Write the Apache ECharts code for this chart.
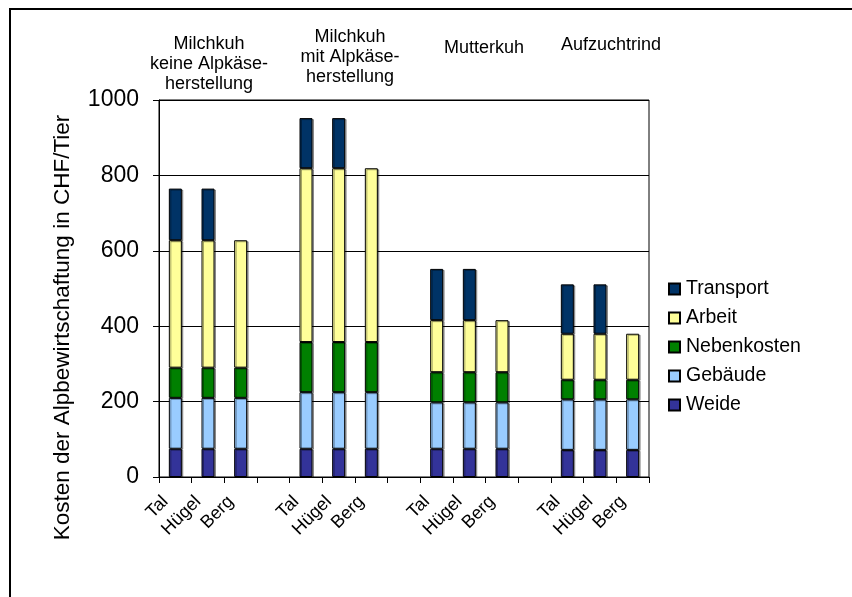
<!DOCTYPE html>
<html>
<head>
<meta charset="utf-8">
<script src="https://cdn.jsdelivr.net/npm/echarts@6/dist/echarts.min.js"></script>
<style>
  html, body { margin: 0; padding: 0; background: #fff; }
  #chart { width: 852px; height: 597px; }
</style>
</head>
<body>
<div id="chart"></div>
<script>
// Alp cost per animal, split by region (Tal / Hügel / Berg) for four animal categories
const regions = ['Tal', 'Hügel', 'Berg'];
const groupTitles = [
  'Milchkuh\nkeine Alpkäse-\nherstellung',
  'Milchkuh\nmit Alpkäse-\nherstellung',
  'Mutterkuh',
  'Aufzuchtrind'
];
// values per bar, in the order group1 Tal/Hügel/Berg, group2 ..., group4
const weide       = [75, 75, 75,   75, 75, 75,    75, 75, 75,    72, 72, 72];
const gebaeude    = [135, 135, 135, 150, 150, 150, 123, 123, 123, 134, 134, 134];
const nebenkosten = [80, 80, 80,   133, 133, 133, 80, 80, 80,    52, 52, 52];
const arbeit      = [338, 338, 338, 461, 461, 461, 138, 138, 138, 122, 122, 122];
const transport   = [137, 137, null, 133, 133, null, 136, 136, null, 131, 131, null];
const yTicks = [0, 200, 400, 600, 800, 1000];

// Category axis: three regions per group with an empty slot between groups
const categories = [];
groupTitles.forEach((g, gi) => {
  regions.forEach(r => categories.push(r));
  if (gi < groupTitles.length - 1) categories.push('');
});
function spread(values) {
  const out = [];
  for (let gi = 0; gi < groupTitles.length; gi++) {
    for (let k = 0; k < regions.length; k++) out.push(values[gi * regions.length + k]);
    if (gi < groupTitles.length - 1) out.push(null);
  }
  return out;
}

const font = 'Liberation Sans, Arial, sans-serif';
const seriesDefs = [
  { name: 'Weide', color: '#333399', data: weide },
  { name: 'Gebäude', color: '#99CCFF', data: gebaeude },
  { name: 'Nebenkosten', color: '#008000', data: nebenkosten },
  { name: 'Arbeit', color: '#FFFF99', data: arbeit },
  { name: 'Transport', color: '#003366', data: transport }
];

const chart = echarts.init(document.getElementById('chart'), null, { renderer: 'canvas' });
const titlePos = [[209, 34], [350, 27], [484, 38], [611, 35]];

chart.setOption({
  animation: false,
  backgroundColor: '#fff',
  textStyle: { fontFamily: font, color: '#000' },
  grid: { left: 159, right: 203, top: 100, bottom: 120, show: true, borderColor: '#000', borderWidth: 1, backgroundColor: 'transparent' },
  legend: {
    orient: 'vertical',
    left: 663,
    top: 274,
    itemWidth: 11,
    itemHeight: 11,
    itemGap: 9,
    icon: 'rect',
    data: ['Transport', 'Arbeit', 'Nebenkosten', 'Gebäude', 'Weide'],
    textStyle: { fontFamily: font, fontSize: 19.5, lineHeight: 19, color: '#000', padding: [0, 0, 0, 1] }
  },
  xAxis: {
    type: 'category',
    data: categories,
    axisLine: { lineStyle: { color: '#000', width: 1 } },
    axisTick: { show: true, length: 6, inside: false, lineStyle: { color: '#000' } },
    axisLabel: { rotate: 45, fontSize: 18, color: '#000', fontFamily: font, margin: 12, interval: 0,
      padding: [0, 14, 0, 0] },
    splitLine: { show: false }
  },
  yAxis: {
    type: 'value',
    min: 0,
    max: 1000,
    interval: 200,
    name: 'Kosten der Alpbewirtschaftung in CHF/Tier',
    nameLocation: 'middle',
    nameGap: 85,
    nameTextStyle: { fontSize: 22.5, color: '#000', fontFamily: font, padding: [0, 78, 0, 0] },
    axisLine: { show: true, lineStyle: { color: '#000' } },
    axisTick: { show: true, length: 6, lineStyle: { color: '#000' } },
    axisLabel: { fontSize: 23, color: '#000', fontFamily: font, margin: 20,
      formatter: v => yTicks.includes(v) ? String(v) : '' },
    splitLine: { show: true, lineStyle: { color: '#000', width: 1 } }
  },
  series: seriesDefs.map(s => ({
    name: s.name,
    type: 'bar',
    stack: 'kosten',
    barWidth: 13,
    data: spread(s.data),
    itemStyle: { color: s.color, borderColor: '#000', borderWidth: 1,
      shadowColor: 'rgba(0,0,0,0.35)', shadowOffsetX: 1.5, shadowOffsetY: 1 },
    emphasis: { disabled: true }
  })),
  graphic: [
    { type: 'rect', shape: { x: 10, y: 9, width: 900, height: 700 }, style: { fill: 'none', stroke: '#000', lineWidth: 2 }, silent: true }
  ].concat(groupTitles.map((t, i) => ({
    type: 'text',
    x: titlePos[i][0],
    y: titlePos[i][1],
    style: { text: t, font: '18px ' + font, fill: '#000', textAlign: 'center', lineHeight: 20 },
    silent: true
  })))
});
</script>
</body>
</html>
